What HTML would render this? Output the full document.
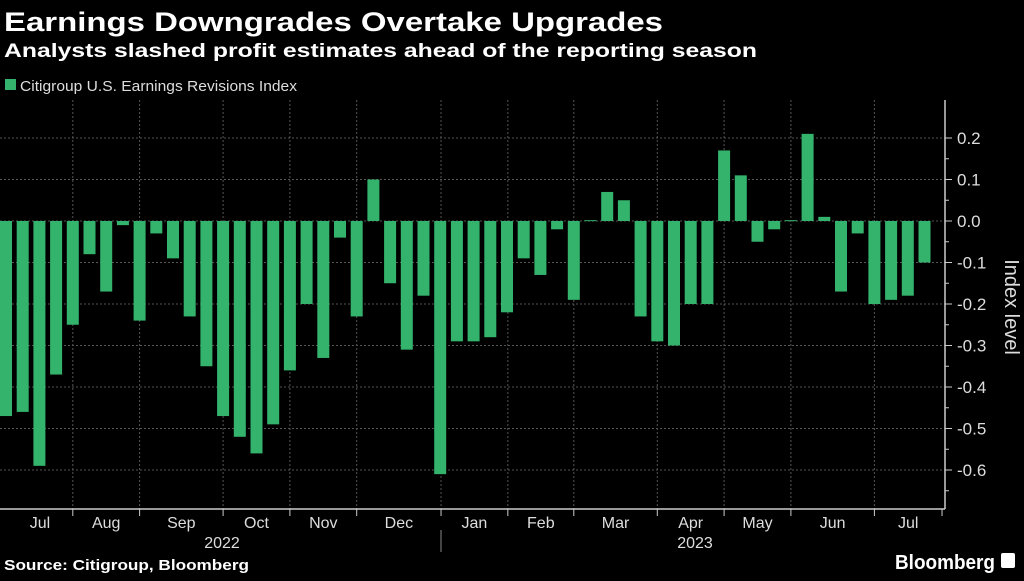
<!DOCTYPE html>
<html><head><meta charset="utf-8"><style>
body{margin:0;background:#000;width:1024px;height:576px;overflow:hidden;font-family:"Liberation Sans","DejaVu Sans",sans-serif;color:#fff}
</style></head><body>
<svg id="c" width="1024" height="576" xmlns="http://www.w3.org/2000/svg">
<text x="4" y="31" font-size="27" font-weight="bold" fill="#fff" textLength="659" lengthAdjust="spacingAndGlyphs">Earnings Downgrades Overtake Upgrades</text>
<text x="4" y="57" font-size="19" font-weight="bold" fill="#fff" textLength="753" lengthAdjust="spacingAndGlyphs">Analysts slashed profit estimates ahead of the reporting season</text>
<rect x="5" y="79" width="11" height="11" fill="#33b36b"/>
<text x="20" y="91" font-size="15" fill="#ddd" textLength="277" lengthAdjust="spacingAndGlyphs">Citigroup U.S. Earnings Revisions Index</text>
<g id="grid"></g><g id="bars"></g><g id="axes"></g>
<text x="4" y="570" font-size="15" font-weight="bold" fill="#fff" textLength="245" lengthAdjust="spacingAndGlyphs">Source: Citigroup, Bloomberg</text>
<text x="895" y="569" font-size="20" font-weight="bold" fill="#fff" textLength="100" lengthAdjust="spacingAndGlyphs">Bloomberg</text>
<rect x="1001" y="553" width="14" height="15" rx="2" fill="#fff"/>
<text x="1005" y="307" font-size="20" fill="#ddd" transform="rotate(90 1005 307)" text-anchor="middle">Index level</text>
</svg>
<script>
const values=[-0.47,-0.46,-0.59,-0.37,-0.25,-0.08,-0.17,-0.01,-0.24,-0.03,-0.09,-0.23,-0.35,-0.47,-0.52,-0.56,-0.49,-0.36,-0.20,-0.33,-0.04,-0.23,0.10,-0.15,-0.31,-0.18,-0.61,-0.29,-0.29,-0.28,-0.22,-0.09,-0.13,-0.02,-0.19,0.002,0.07,0.05,-0.23,-0.29,-0.30,-0.20,-0.20,0.17,0.11,-0.05,-0.02,0.002,0.21,0.01,-0.17,-0.03,-0.20,-0.19,-0.18,-0.10];
const yTicks=[0.2,0.1,0.0,-0.1,-0.2,-0.3,-0.4,-0.5,-0.6];
const months=["Jul","Aug","Sep","Oct","Nov","Dec","Jan","Feb","Mar","Apr","May","Jun","Jul"];
const monthTickIdx=[4,8,13,17,21,26.05,30.05,34,39,43,47,52,56.05];
const ns="http://www.w3.org/2000/svg";
const Y=v=>221-v*415;
const X=i=>i*16.7;
function mk(t,a,p){const e=document.createElementNS(ns,t);for(const k in a)e.setAttribute(k,a[k]);(p||document.getElementById('c')).appendChild(e);return e;}
const grid=document.getElementById('grid'),bars=document.getElementById('bars'),axes=document.getElementById('axes');
yTicks.forEach(v=>{
 const l=mk('line',{x1:0,x2:945,y1:Y(v),y2:Y(v),stroke:'#555','stroke-dasharray':'2,2'},grid);
 
 
 const t=mk('text',{x:957,y:Y(v)+6,'font-size':17,fill:'#ddd'},axes);
 t.textContent=v.toFixed(1);
 
 
 mk('line',{x1:945,x2:952,y1:Y(v),y2:Y(v),stroke:'#ccc'},axes);
 mk('line',{x1:945,x2:949,y1:Y(v-0.05),y2:Y(v-0.05),stroke:'#ccc'},axes);
});
const tickX=monthTickIdx.map(i=>X(i)+6);
months.forEach((m,k)=>{
 const x=tickX[k];
 if(k<tickX.length-1){const g=mk('line',{x1:x,x2:x,y1:100,y2:509,stroke:'#555','stroke-dasharray':'2,2'},grid);
 
 }
 mk('line',{x1:x,x2:x,y1:509,y2:516,stroke:'#ccc'},axes);
 const lx=k==0?40:(tickX[k-1]+x)/2;
 const t=mk('text',{x:lx,y:528,'font-size':16,fill:'#ddd','text-anchor':'middle'},axes);
 t.textContent=m;
 
 
});
values.forEach((v,i)=>{
 const y0=Y(0),y1=Y(v);
 const r=mk('rect',{x:X(i),y:Math.min(y0,y1),width:12,height:Math.max(1,Math.abs(y1-y0)),fill:'#33b36b'},bars);
 
 
});
mk('line',{x1:0,x2:945,y1:509,y2:509,stroke:'#ccc','stroke-width':1.5},axes);
mk('line',{x1:945,x2:945,y1:100,y2:509,stroke:'#ccc','stroke-width':1.5},axes);
mk('line',{x1:441,x2:441,y1:530,y2:552,stroke:'#888'},axes);
[[222,'2022'],[695,'2023']].forEach(([x,s])=>{const t=mk('text',{x:x,y:548,'font-size':16,fill:'#ddd','text-anchor':'middle'},axes);t.textContent=s;
 
 });
</script>
</body></html>
